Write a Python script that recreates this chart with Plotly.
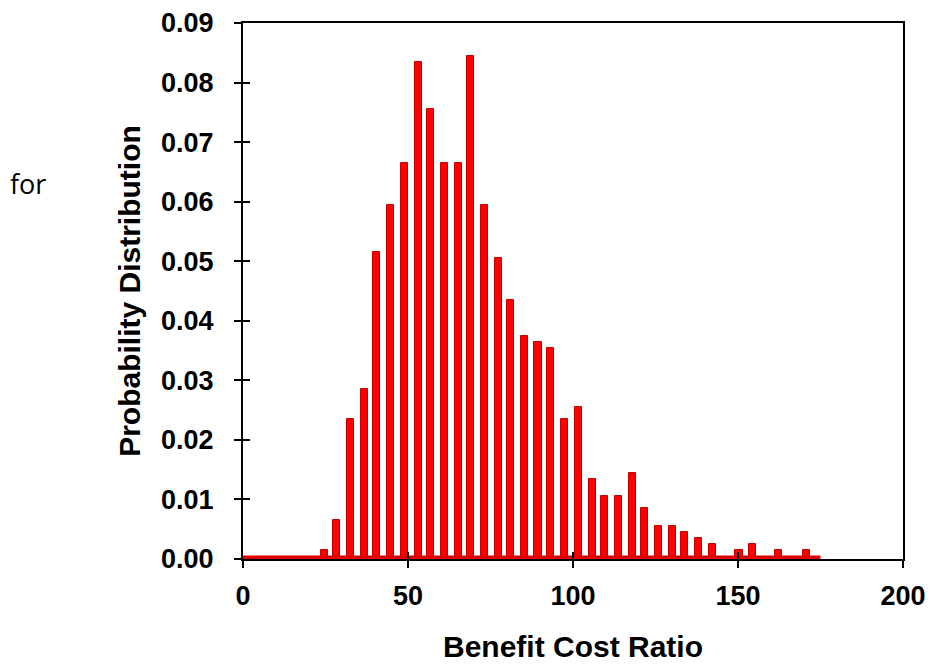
import plotly.graph_objects as go

# Data
bin_centers = [24.8, 28.3, 32.5, 36.8, 40.5, 44.7, 49.0, 53.2, 56.8, 61.1, 65.3, 68.9,
               73.2, 77.4, 81.0, 85.2, 89.4, 93.1, 97.4, 101.6, 106.0, 109.5, 113.7,
               118.0, 121.7, 125.9, 130.2, 133.7, 138.0, 142.3, 150.3, 154.4, 162.3, 170.7]
probabilities = [0.0015, 0.0065, 0.0235, 0.0285, 0.0515, 0.0595, 0.0665, 0.0835, 0.0755,
                 0.0665, 0.0665, 0.0845, 0.0595, 0.0505, 0.0435, 0.0375, 0.0365, 0.0355,
                 0.0235, 0.0255, 0.0135, 0.0105, 0.0105, 0.0145, 0.0085, 0.0055, 0.0055,
                 0.0045, 0.0035, 0.0025, 0.0015, 0.0025, 0.0015, 0.0015]
baseline_x = [0, 175]
baseline_y = [0.0006, 0.0006]

x_ticks = [0, 50, 100, 150, 200]
y_ticks = [0.00, 0.01, 0.02, 0.03, 0.04, 0.05, 0.06, 0.07, 0.08, 0.09]

fig = go.Figure()
fig.add_trace(go.Scatter(x=baseline_x, y=baseline_y, mode="lines",
                         line=dict(width=0, color="#E00000"),
                         fill="tozeroy", fillcolor="#E00000",
                         hoverinfo="skip", showlegend=False))
fig.add_trace(go.Bar(x=bin_centers, y=probabilities, width=2.2,
                     marker=dict(color="#FF0000", line=dict(color="#C80000", width=1)),
                     showlegend=False))
# invisible helper trace so that the outer-tick overlay axes are drawn
fig.add_trace(go.Scatter(x=[x_ticks[-1]], y=[y_ticks[-1]], xaxis="x2", yaxis="y2",
                         mode="markers", marker=dict(opacity=0, size=1),
                         hoverinfo="skip", showlegend=False))

tickfont = dict(family="Liberation Sans, Arial, sans-serif", size=27, color="black", weight="bold")
titlefont = dict(family="Liberation Sans, Arial, sans-serif", size=30, color="black", weight="bold")

fig.update_layout(
    width=935, height=666,
    margin=dict(l=243, r=32, t=23, b=107),
    paper_bgcolor="white", plot_bgcolor="white",
    bargap=0,
    xaxis=dict(range=[0, 200], tickvals=x_ticks, ticktext=[str(v) for v in x_ticks],
               ticks="inside", ticklen=7, tickwidth=2, tickcolor="black",
               showline=True, linecolor="black", linewidth=2, mirror=True,
               showgrid=False, zeroline=False, automargin=False,
               tickfont=tickfont, ticklabelstandoff=12,
               title=dict(text="Benefit Cost Ratio", font=titlefont, standoff=26)),
    yaxis=dict(range=[0, 0.09], tickvals=y_ticks, ticktext=["%.2f" % v for v in y_ticks],
               ticks="inside", ticklen=7, tickwidth=2, tickcolor="black",
               showline=True, linecolor="black", linewidth=2, mirror=True,
               showgrid=False, zeroline=False, automargin=False,
               tickfont=tickfont, ticklabelstandoff=22,
               title=dict(text="Probability Distribution", font=titlefont, standoff=12)),
    xaxis2=dict(range=[0, 200], overlaying="x", side="bottom", anchor="y2", tickvals=x_ticks,
                ticks="outside", ticklen=8, tickwidth=2, tickcolor="black", automargin=False,
                showticklabels=False, showline=False, showgrid=False, zeroline=False),
    yaxis2=dict(range=[0, 0.09], overlaying="y", side="left", anchor="x2", tickvals=y_ticks,
                ticks="outside", ticklen=8, tickwidth=2, tickcolor="black", automargin=False,
                showticklabels=False, showline=False, showgrid=False, zeroline=False),
)

fig.add_annotation(text="for", xref="paper", yref="paper",
                   x=-0.326, y=0.70, xanchor="center", yanchor="middle",
                   showarrow=False,
                   font=dict(family="Open Sans, Noto Sans, sans-serif", size=27, color="black"))

fig.write_html("out.html")
